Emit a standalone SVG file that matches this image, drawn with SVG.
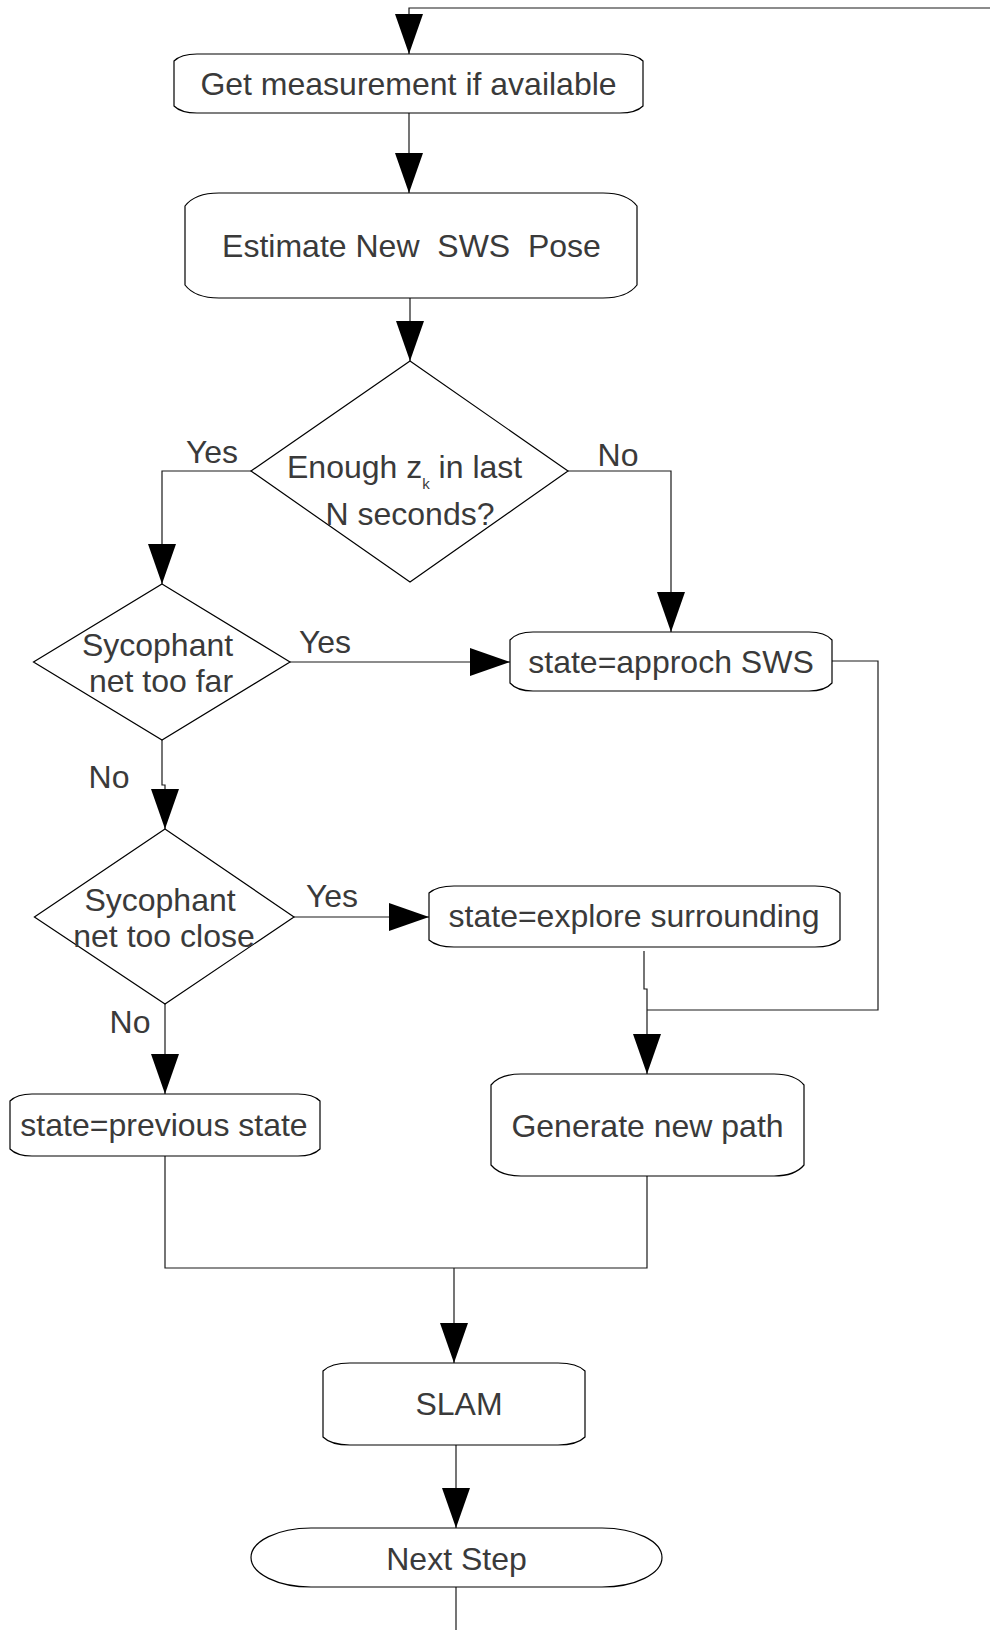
<svg xmlns="http://www.w3.org/2000/svg" width="990" height="1630" viewBox="0 0 990 1630">
<defs>
<marker id="arr" markerUnits="userSpaceOnUse" markerWidth="40" markerHeight="28" refX="40" refY="14" orient="auto">
<path d="M0,0 L40,14 L0,28 Z" fill="#000"/>
</marker>
<style>
.node{fill:#fff;stroke:#000;stroke-width:1.2}
.t{font-family:"Liberation Sans",Arial,sans-serif;font-size:32px;fill:#3a3a3a;text-anchor:middle}
.conn{fill:none;stroke:#1a1a1a;stroke-width:1.2}
.arrow{marker-end:url(#arr)}
</style>
</defs>
<rect width="990" height="1630" fill="#fff"/>
<g id="connectors">
<path class="conn arrow" d="M990,8 L409,8 L409,54"/>
<path class="conn arrow" d="M409,113 L409,193"/>
<path class="conn arrow" d="M410,298 L410,361"/>
<path class="conn arrow" d="M251,471 L162,471 L162,584"/>
<path class="conn arrow" d="M568,471 L671,471 L671,632"/>
<path class="conn arrow" d="M290,662 L510,662"/>
<path class="conn arrow" d="M162,740 L162,785 L165,785 L165,829"/>
<path class="conn arrow" d="M294,917 L429,917"/>
<path class="conn arrow" d="M165,1004 L165,1094"/>
<path class="conn arrow" d="M644,951 L644,989 L647,989 L647,1074"/>
<path class="conn" d="M832,661 L878,661 L878,1010 L647,1010"/>
<path class="conn" d="M165,1156 L165,1268 L647,1268 L647,1176"/>
<path class="conn arrow" d="M454,1268 L454,1363"/>
<path class="conn arrow" d="M456,1445 L456,1528"/>
<path class="conn" d="M456,1587 L456,1630"/>
</g>
<g id="labels">
<text class="t" x="212" y="463">Yes</text>
<text class="t" x="618" y="466">No</text>
<text class="t" x="325" y="653">Yes</text>
<text class="t" x="109" y="788">No</text>
<text class="t" x="332" y="907">Yes</text>
<text class="t" x="130" y="1033">No</text>
</g>
<g id="get-measurement">
<path class="node" d="M174,61 Q181,54 197,54 L620,54 Q636,54 643,61 L643,106 Q636,113 620,113 L197,113 Q181,113 174,106 Z"/>
<text class="t" x="408.5" y="95">Get measurement if available</text>
</g>
<g id="estimate-pose">
<path class="node" d="M185,206 Q195,193 219,193 L603,193 Q627,193 637,206 L637,285 Q627,298 603,298 L219,298 Q195,298 185,285 Z"/>
<text class="t" x="411.5" y="257" xml:space="preserve">Estimate New  SWS  Pose</text>
</g>
<g id="enough-zk">
<polygon class="node" points="410,361 568,471 410,582 251,471"/>
<text class="t" x="287" y="478" style="text-anchor:start">Enough z<tspan font-size="15" dy="11">k</tspan><tspan dy="-11"> in last</tspan></text>
<text class="t" x="410" y="525">N seconds?</text>
</g>
<g id="too-far">
<polygon class="node" points="162,584 290,662 162,740 33.5,662"/>
<text class="t" x="157.5" y="656">Sycophant</text>
<text class="t" x="161" y="692">net too far</text>
</g>
<g id="approach">
<path class="node" d="M510,640 Q517,632 533,632 L809,632 Q825,632 832,640 L832,683 Q825,691 809,691 L533,691 Q517,691 510,683 Z"/>
<text class="t" x="671" y="673">state=approch SWS</text>
</g>
<g id="too-close">
<polygon class="node" points="165,829 294,917 165,1004 34.4,917"/>
<text class="t" x="160" y="911">Sycophant</text>
<text class="t" x="164" y="947">net too close</text>
</g>
<g id="explore">
<path class="node" d="M429,893 Q437,886 454,886 L815,886 Q832,886 840,893 L840,940 Q832,947 815,947 L454,947 Q437,947 429,940 Z"/>
<text class="t" x="634" y="927">state=explore surrounding</text>
</g>
<g id="previous">
<path class="node" d="M10,1101 Q17,1094 32,1094 L298,1094 Q313,1094 320,1101 L320,1149 Q313,1156 298,1156 L32,1156 Q17,1156 10,1149 Z"/>
<text class="t" x="164" y="1136">state=previous state</text>
</g>
<g id="generate">
<path class="node" d="M491,1085 Q500,1074 521,1074 L774,1074 Q795,1074 804,1085 L804,1165 Q795,1176 774,1176 L521,1176 Q500,1176 491,1165 Z"/>
<text class="t" x="647.5" y="1137">Generate new path</text>
</g>
<g id="slam">
<path class="node" d="M323,1371 Q331,1363 350,1363 L558,1363 Q577,1363 585,1371 L585,1437 Q577,1445 558,1445 L350,1445 Q331,1445 323,1437 Z"/>
<text class="t" x="459" y="1415">SLAM</text>
</g>
<g id="next-step">
<path class="node" d="M311,1528 L602,1528 A60,29.5 0 0 1 602,1587 L311,1587 A60,29.5 0 0 1 311,1528 Z"/>
<text class="t" x="456.5" y="1570">Next Step</text>
</g>
</svg>
